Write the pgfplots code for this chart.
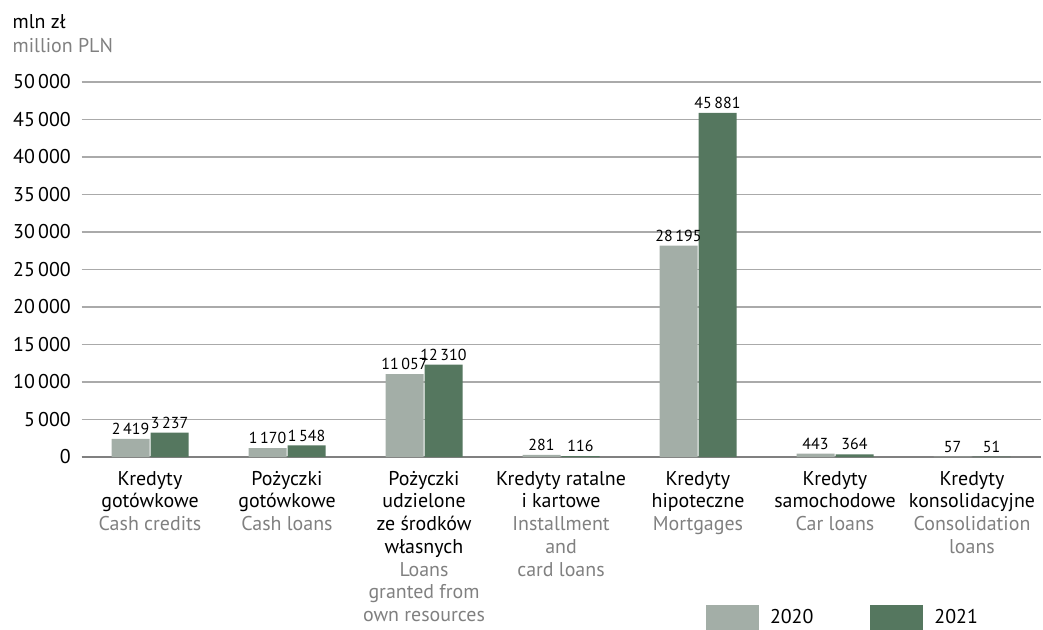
\documentclass[border=0pt]{standalone}
\usepackage{fontspec}
\setmainfont{PT Sans}
\usepackage{pgfplots}
\pgfplotsset{compat=1.18}
\definecolor{c2020}{HTML}{A3AEA7}
\definecolor{c2021}{HTML}{55775F}
\definecolor{engl}{HTML}{808080}
\definecolor{gridc}{HTML}{AAAAAA}
\pgfplotsset{boxlegend/.style={legend image code/.code={\fill[##1] (0bp,-12.5bp) rectangle (53bp,12.5bp);}}}
\newcommand\R{\rule{0pt}{18bp}}
\begin{document}
\begin{tikzpicture}
\begin{axis}[
    at={(0,0)}, anchor=south west,
    scale only axis, width=959bp, height=375bp,
    ybar=1bp, bar width=38bp,
    xmin=-0.5, xmax=6.5, ymin=0, ymax=50000,
    xtick={0,...,6},
    xticklabels={
      {\R Kredyty\\gotówkowe\\\textcolor{engl}{Cash credits}},
      {\R Pożyczki\\gotówkowe\\\textcolor{engl}{Cash loans}},
      {\R Pożyczki\\udzielone\\ze środków\\własnych\\\textcolor{engl}{Loans}\\\textcolor{engl}{granted from}\\\textcolor{engl}{own resources}},
      {\R Kredyty ratalne\\i kartowe\\\textcolor{engl}{Installment}\\\textcolor{engl}{and}\\\textcolor{engl}{card loans}},
      {\R Kredyty\\hipoteczne\\\textcolor{engl}{Mortgages}},
      {\R Kredyty\\samochodowe\\\textcolor{engl}{Car loans}},
      {\R Kredyty\\konsolidacyjne\\\textcolor{engl}{Consolidation}\\\textcolor{engl}{loans}}},
    ytick={0,5000,...,50000},
    scaled y ticks=false,
    /pgf/number format/1000 sep={\,},
    /pgf/number format/assume math mode=true,
    ymajorgrids, grid style={gridc, line width=1.2bp},
    extra y ticks={0}, extra y tick labels={},
    extra y tick style={grid style={gray, line width=1.4bp}},
    axis line style={draw=none},
    major tick length=0pt, tick style={draw=none},
    yticklabel style={font=\fontsize{20}{23}\selectfont, inner sep=0pt, anchor=east, xshift=-10.5bp},
    xticklabel style={font=\fontsize{20}{22.8}\selectfont, align=center, anchor=north,
        inner sep=0pt, yshift=-10bp},
    nodes near coords,
    nodes near coords style={font=\fontsize{16}{18}\selectfont, inner sep=0pt, anchor=south, yshift=4bp},
    legend columns=2,
    legend style={at={(0.6512,-0.4613)}, anchor=south west, draw=none, fill=none,
        inner sep=0pt, outer sep=0pt, font=\fontsize{20}{23}\selectfont,
        nodes={inner sep=0pt},
        /tikz/every odd column/.append style={column sep=11bp},
        /tikz/every even column/.append style={column sep=57bp}},
    legend cell align=left,
]
\addplot[fill=c2020, draw=none, boxlegend]
coordinates {(0,2419) (1,1170) (2,11057) (3,281) (4,28195) (5,443) (6,57)};
\addplot[fill=c2021, draw=none, boxlegend]
coordinates {(0,3237) (1,1548) (2,12310) (3,116) (4,45881) (5,364) (6,51)};
\legend{2020,2021}
\end{axis}
\node[anchor=base west, inner sep=0pt, font=\fontsize{20}{23}\selectfont] at (-69bp,428bp) {mln zł};
\node[anchor=base west, inner sep=0pt, font=\fontsize{20}{23}\selectfont, text=engl] at (-69bp,404bp) {million PLN};
\pgfresetboundingbox
\path[use as bounding box] (-81.5bp,-173bp) rectangle (961.5bp,457bp);
\end{tikzpicture}
\end{document}
